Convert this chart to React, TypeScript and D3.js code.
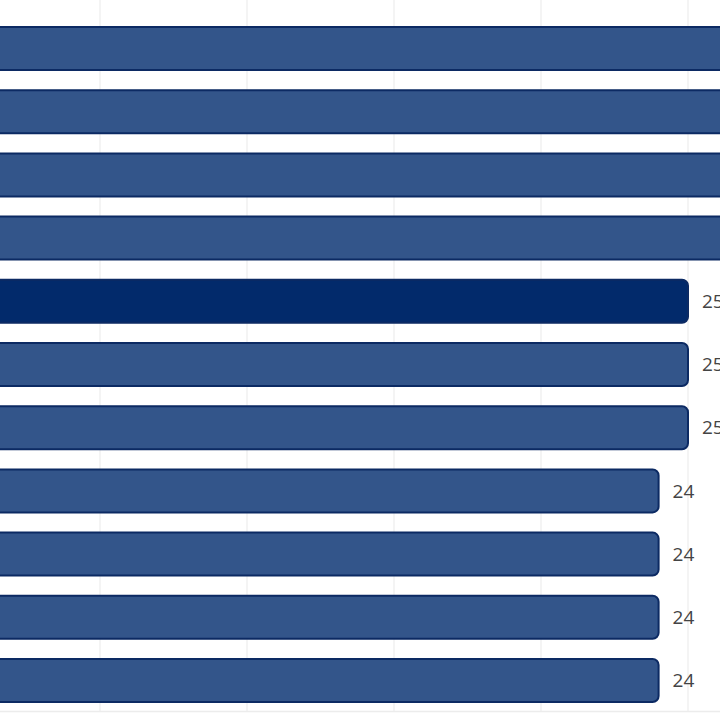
import { useEffect, useRef } from 'react'
import * as d3 from 'd3'

const categories = ['r1', 'r2', 'r3', 'r4', 'r5', 'r6', 'r7', 'r8', 'r9', 'r10', 'r11']
const values = [27, 27, 27, 27, 25, 25, 25, 24, 24, 24, 24]
const highlighted = ['r5']
const xTicks = [0, 5, 10, 15, 20, 25, 30]

const W = 720
const H = 720

export default function App() {
  const svgRef = useRef<SVGSVGElement | null>(null)

  useEffect(() => {
    if (!svgRef.current) return
    const svg = d3.select(svgRef.current)
    svg.selectAll('*').remove()

    const data = categories.map((c, i) => ({ c, v: values[i] }))

    // ── Scales ─────────────────────────────────────────────────────────────
    const x = d3.scaleLinear().domain([0, 25]).range([-47, 688])
    const y = d3.scaleBand<string>()
      .domain(categories)
      .range([16.9, 712.1])
      .paddingInner(0.32)
      .paddingOuter(0.16)

    // ── Grid ───────────────────────────────────────────────────────────────
    svg.append('g')
      .selectAll('line')
      .data(xTicks)
      .join('line')
      .attr('x1', (d) => x(d)).attr('x2', (d) => x(d))
      .attr('y1', 0).attr('y2', 712)
      .attr('stroke', '#f1f1f1').attr('stroke-width', 1.5)

    svg.append('line')
      .attr('x1', 0).attr('x2', W)
      .attr('y1', 711.5).attr('y2', 711.5)
      .attr('stroke', '#ececec').attr('stroke-width', 1.5)

    // ── Bars ───────────────────────────────────────────────────────────────
    svg.append('g')
      .selectAll('rect')
      .data(data)
      .join('rect')
      .attr('x', x(0))
      .attr('y', (d) => y(d.c)!)
      .attr('width', (d) => x(d.v) - x(0))
      .attr('height', y.bandwidth())
      .attr('rx', 6).attr('ry', 6)
      .attr('fill', (d) => (highlighted.includes(d.c) ? '#022a6b' : '#33558a'))
      .attr('stroke', '#0c2a63')
      .attr('stroke-width', 2)

    // ── Value labels ───────────────────────────────────────────────────────
    svg.append('g')
      .selectAll('text')
      .data(data)
      .join('text')
      .attr('x', (d) => x(d.v) + 14)
      .attr('y', (d) => y(d.c)! + y.bandwidth() / 2)
      .attr('dy', '0.35em')
      .attr('font-family', '"Open Sans", sans-serif')
      .attr('font-size', 19)
      .attr('fill', '#444')
      .text((d) => d.v)
  }, [])

  return (
    <svg
      ref={svgRef}
      width={W}
      height={H}
      style={{ position: 'fixed', left: 0, top: 0, display: 'block', background: '#fff', overflow: 'hidden' }}
    />
  )
}
